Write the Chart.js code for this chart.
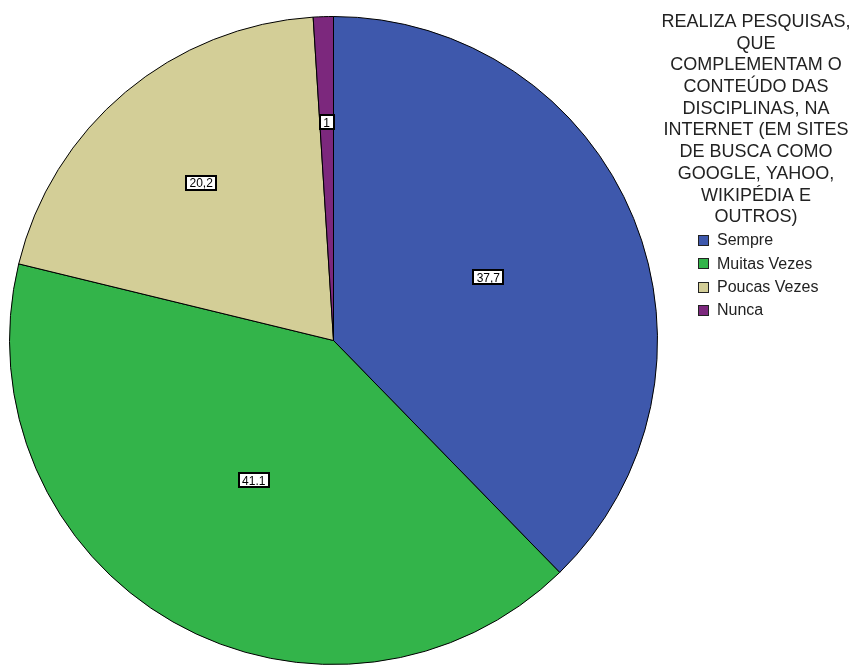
<!DOCTYPE html>
<html>
<head>
<meta charset="utf-8">
<script src="https://cdn.jsdelivr.net/npm/chart.js@4.4.1/dist/chart.umd.min.js"></script>
<style>
  html, body { margin: 0; padding: 0; background: #fff; }
  #wrap { width: 855px; height: 667px; position: relative; }
</style>
</head>
<body>
<div id="wrap"><canvas id="c" width="855" height="667"></canvas></div>
<script>
const categories = ["Sempre", "Muitas Vezes", "Poucas Vezes", "Nunca"];
const values = [37.7, 41.1, 20.2, 1];
const valueLabels = ["37,7", "41.1", "20,2", "1"];
const colors = ["#3e58ac", "#33b44a", "#d3ce97", "#7c287d"];
const legendTitle = ["REALIZA PESQUISAS,", "QUE", "COMPLEMENTAM O", "CONTEÚDO DAS", "DISCIPLINAS, NA", "INTERNET (EM SITES", "DE BUSCA COMO", "GOOGLE, YAHOO,", "WIKIPÉDIA E", "OUTROS)"];

const labelPlugin = {
  id: 'sliceLabels',
  afterDatasetsDraw(chart, args, opts) {
    const ctx = chart.ctx;
    const meta = chart.getDatasetMeta(0);
    ctx.save();
    ctx.font = '12px "Liberation Sans", Arial, sans-serif';
    ctx.textAlign = 'center';
    ctx.textBaseline = 'middle';
    meta.data.forEach((arc, i) => {
      const p = arc.getProps(['x', 'y', 'startAngle', 'endAngle', 'outerRadius'], true);
      const mid = (p.startAngle + p.endAngle) / 2;
      const r = p.outerRadius * opts.fractions[i];
      const x = p.x + Math.cos(mid) * r;
      const y = p.y + Math.sin(mid) * r;
      const t = valueLabels[i];
      const w = Math.round(ctx.measureText(t).width + 7);
      const h = 14;
      const bx = Math.round(x - w / 2), by = Math.round(y - h / 2);
      ctx.fillStyle = '#fff';
      ctx.fillRect(bx, by, w, h);
      ctx.strokeStyle = '#000';
      ctx.lineWidth = 2;
      ctx.strokeRect(bx, by, w, h);
      ctx.fillStyle = '#000';
      ctx.fillText(t, x, y + 1);
    });
    ctx.restore();
  }
};

const legendPlugin = {
  id: 'customLegend',
  afterDraw(chart, args, opts) {
    const ctx = chart.ctx;
    ctx.save();
    ctx.fillStyle = '#222';
    ctx.textAlign = 'center';
    ctx.textBaseline = 'middle';
    ctx.font = '18px "Liberation Sans", Arial, sans-serif';
    legendTitle.forEach((line, i) => {
      ctx.fillText(line, opts.titleX, opts.titleY + i * opts.titleLH);
    });
    ctx.textAlign = 'left';
    ctx.font = '16px "Liberation Sans", Arial, sans-serif';
    categories.forEach((c, i) => {
      const y = opts.itemY + i * opts.itemLH;
      ctx.fillStyle = colors[i];
      ctx.fillRect(opts.boxX + 0.5, Math.round(y - 5) + 0.5, 10, 10);
      ctx.strokeStyle = '#222';
      ctx.lineWidth = 1;
      ctx.strokeRect(opts.boxX + 0.5, Math.round(y - 5) + 0.5, 10, 10);
      ctx.fillStyle = '#222';
      ctx.fillText(c, opts.boxX + 19, y + 1);
    });
    ctx.restore();
  }
};

new Chart(document.getElementById('c'), {
  type: 'pie',
  data: {
    labels: categories,
    datasets: [{
      data: values,
      backgroundColor: colors,
      borderColor: '#000',
      borderWidth: 1
    }]
  },
  options: {
    responsive: false,
    animation: false,
    layout: { padding: { left: 9, right: 197, top: 15, bottom: 1 } },
    plugins: {
      legend: { display: false },
      tooltip: { enabled: false },
      sliceLabels: { fractions: [0.516, 0.497, 0.636, 0.674] },
      customLegend: { titleX: 756, titleY: 22, titleLH: 21.7, boxX: 698, itemY: 240, itemLH: 23.3 }
    }
  },
  plugins: [labelPlugin, legendPlugin]
});
</script>
</body>
</html>
